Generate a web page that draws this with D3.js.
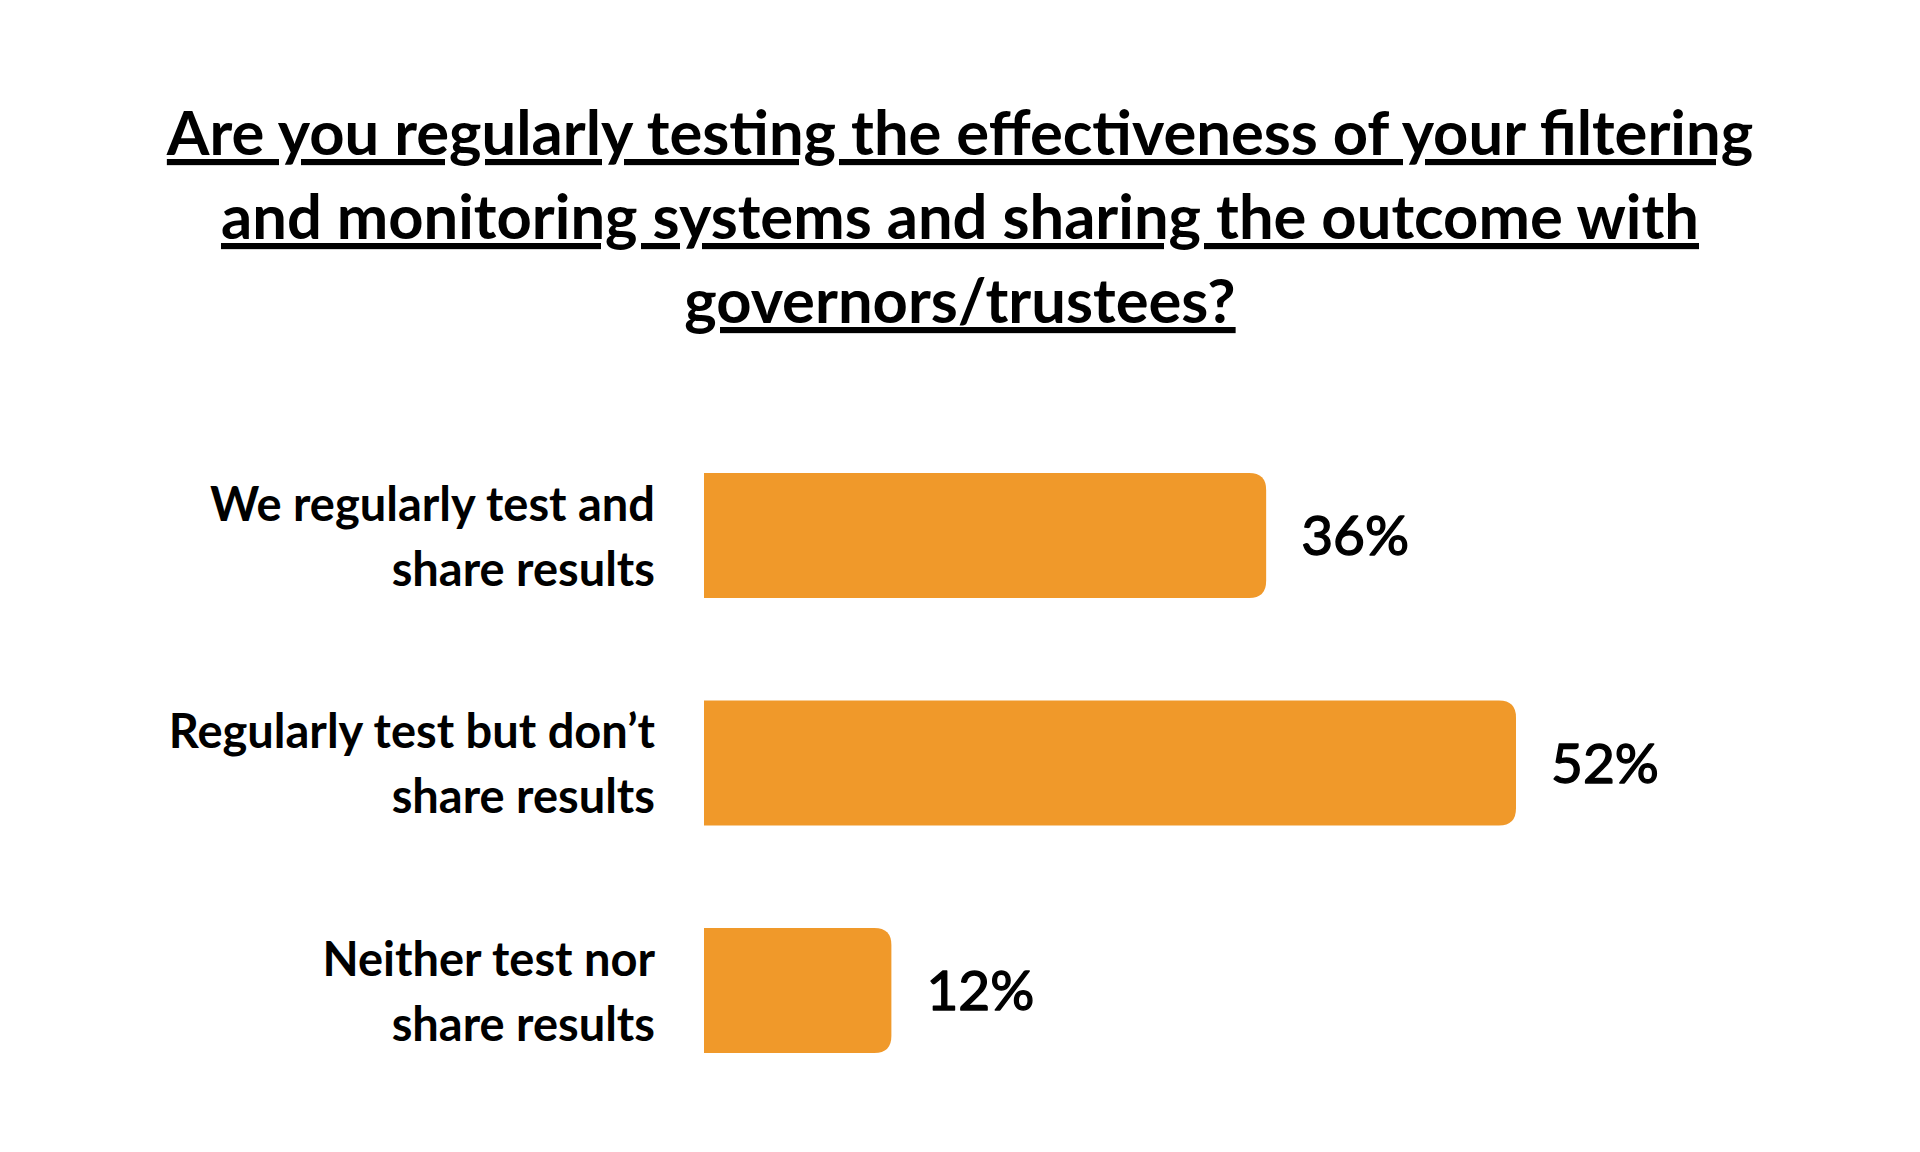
<!DOCTYPE html>
<html>
<head>
<meta charset="utf-8">
<script src="https://cdn.jsdelivr.net/npm/d3@7"></script>
<style>
  html, body { margin: 0; padding: 0; background: #ffffff; }
  svg { display: block; }
  text { font-family: Lato, "Noto Sans", sans-serif; fill: #000; }
</style>
</head>
<body>
<script>
const titleLines = [
  "Are you regularly testing the effectiveness of your filtering",
  "and monitoring systems and sharing the outcome with",
  "governors/trustees?"
];
const categories = [
  ["We regularly test and", "share results"],
  ["Regularly test but don\u2019t", "share results"],
  ["Neither test nor", "share results"]
];
const values = [36, 52, 12];
const valueLabels = ["36%", "52%", "12%"];

const W = 1920, H = 1152;
const svg = d3.select("body").append("svg").attr("width", W).attr("height", H);
svg.append("rect").attr("width", W).attr("height", H).attr("fill", "#ffffff");

// Title
const title = svg.append("g");
titleLines.forEach((t, i) => {
  title.append("text")
    .attr("x", 960)
    .attr("y", 155 + i * 84)
    .attr("text-anchor", "middle")
    .style("font-size", "61.5px")
    .style("font-weight", 700)
    .style("text-decoration", "underline")
    .text(t);
});

const x0 = 704;
const x = d3.scaleLinear().domain([0, 52]).range([0, 812]);
const y = d3.scaleBand().domain(d3.range(values.length))
  .range([473, 473 + 2 * 227.5 + 125])
  .paddingInner(102.5 / 227.5).paddingOuter(0);

const r = 17;
function barPath(xs, yt, w, h) {
  const rr = Math.min(r, w / 2, h / 2);
  return `M${xs},${yt} H${xs + w - rr} Q${xs + w},${yt} ${xs + w},${yt + rr} V${yt + h - rr} Q${xs + w},${yt + h} ${xs + w - rr},${yt + h} H${xs} Z`;
}

const g = svg.append("g");
g.selectAll("path.bar").data(values).join("path")
  .attr("class", "bar")
  .attr("fill", "#F0992A")
  .attr("d", (d, i) => barPath(x0, y(i), x(d), y.bandwidth()));

g.selectAll("text.val").data(values).join("text")
  .attr("class", "val")
  .attr("x", (d) => x0 + x(d) + 35)
  .attr("y", (d, i) => y(i) + y.bandwidth() / 2)
  .attr("dy", "0.36em")
  .style("font-size", "55px")
  .style("font-weight", 400)
  .style("stroke", "#000")
  .style("stroke-width", "1.4px")
  .style("stroke-linejoin", "round")
  .text((d, i) => valueLabels[i]);

const lab = g.selectAll("g.lab").data(categories).join("g").attr("class", "lab");
lab.each(function (lines, i) {
  const cy = y(i) + y.bandwidth() / 2;
  lines.forEach((t, j) => {
    d3.select(this).append("text")
      .attr("x", 655)
      .attr("y", cy - 15 + j * 65)
      .attr("text-anchor", "end")
      .style("font-size", "47px")
      .style("font-weight", 700)
      .text(t);
  });
});
</script>
</body>
</html>
